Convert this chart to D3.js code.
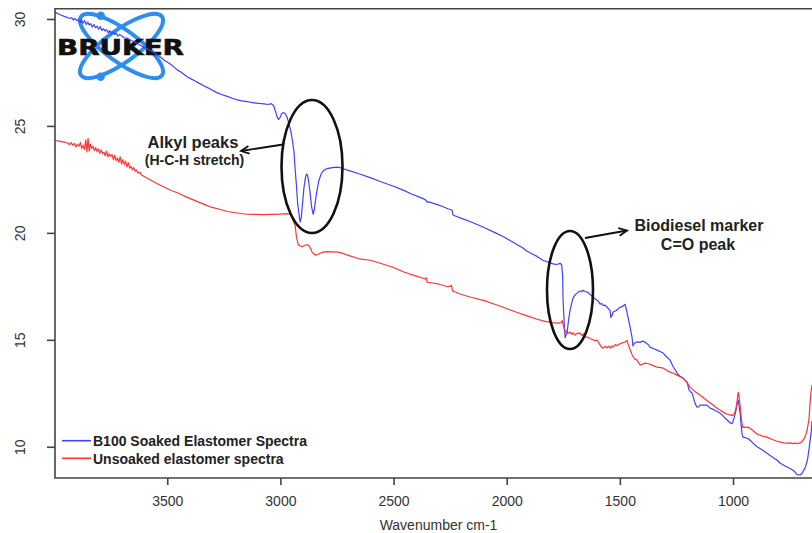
<!DOCTYPE html>
<html>
<head>
<meta charset="utf-8">
<script src="https://cdn.jsdelivr.net/npm/d3@7"></script>
<style>
  html, body { margin: 0; padding: 0; background: #fff; }
  svg { display: block; font-family: "Liberation Sans", Arial, sans-serif; }
</style>
</head>
<body>
<svg id="chart" width="812" height="533"></svg>
<script>
// FTIR transmittance spectra: [wavenumber (cm-1), transmittance]
const soakedSpectrum = [
  [3995,30.31],[3973,30.20],[3955,30.12],[3930,30.02],[3922,30.06],[3915,29.95],[3908,30.02],
  [3900,29.93],[3893,29.98],[3886,29.84],[3879,29.96],[3872,29.80],[3865,29.92],[3858,29.74],
  [3851,29.86],[3845,29.72],[3838,29.78],[3831,29.62],[3824,29.74],[3817,29.60],[3810,29.66],
  [3803,29.52],[3796,29.64],[3789,29.46],[3782,29.55],[3775,29.44],[3768,29.50],[3761,29.36],
  [3754,29.45],[3747,29.30],[3740,29.38],[3733,29.28],[3726,29.34],[3718,29.20],[3710,29.28],
  [3703,29.22],[3690,29.12],
  [3677,29.10],[3660,28.98],[3646,28.95],[3630,28.84],[3615,28.75],[3600,28.66],[3588,28.60],
  [3570,28.50],[3555,28.40],[3544,28.32],[3530,28.22],[3513,28.07],[3495,27.95],[3482,27.86],
  [3470,27.75],[3456,27.62],[3440,27.52],[3425,27.40],[3412,27.30],[3395,27.20],[3381,27.12],
  [3360,27.00],[3337,26.87],[3320,26.78],[3306,26.70],[3285,26.58],[3261,26.47],[3235,26.38],
  [3210,26.28],[3191,26.22],[3170,26.17],[3147,26.14],[3130,26.10],[3116,26.08],[3095,26.05],
  [3072,26.03],[3055,26.00],[3041,26.04],[3030,25.95],[3022,25.70],[3014,25.40],[3008,25.30],
  [3001,25.40],[2996,25.55],[2988,25.62],[2979,25.58],[2972,25.45],[2966,25.25],[2955,24.80],
  [2948,24.40],[2940,23.80],[2935,23.00],[2929,22.20],[2924,21.40],[2918,20.90],[2913,20.50],
  [2908,20.70],[2902,21.40],[2896,22.10],[2890,22.55],[2885,22.75],[2880,22.70],[2875,22.40],
  [2868,21.80],[2862,21.20],[2855,20.87],[2850,21.10],[2844,21.60],[2837,22.05],[2830,22.45],
  [2820,22.75],[2811,22.90],[2795,23.00],[2770,23.05],[2749,23.07],[2736,23.05],[2723,23.00],
  [2700,22.92],[2650,22.75],[2603,22.58],[2559,22.40],[2500,22.18],[2458,22.00],[2420,21.82],
  [2380,21.65],[2369,21.60],[2360,21.55],[2355,21.50],[2352,21.44],[2345,21.45],[2300,21.30],
  [2260,21.13],[2245,21.08],[2241,21.05],[2238,20.85],[2230,20.80],[2200,20.68],[2162,20.53],
  [2100,20.25],[2050,20.00],[2016,19.83],[1970,19.55],[1930,19.30],[1910,19.14],[1880,18.98],
  [1866,18.90],[1840,18.72],[1808,18.60],[1795,18.55],[1780,18.52],[1770,18.55],[1764,18.58],
  [1757,18.50],[1753,18.00],[1751,16.90],[1746,15.80],[1742,15.10],[1738,15.22],[1733,15.35],
  [1727,15.90],[1720,16.39],[1712,16.75],[1707,16.95],[1698,17.10],[1685,17.22],[1676,17.28],
  [1670,17.25],[1663,17.32],[1655,17.26],[1645,17.24],[1640,17.20],[1630,17.10],[1618,17.00],
  [1610,16.92],[1601,16.85],[1595,16.80],[1587,16.67],[1580,16.70],[1574,16.60],[1565,16.62],
  [1557,16.53],[1550,16.45],[1543,16.35],[1540,16.05],[1534,16.15],[1530,16.30],[1520,16.35],
  [1512,16.40],[1505,16.48],[1499,16.52],[1490,16.55],[1482,16.62],[1477,16.66],[1471,16.40],
  [1464,16.06],[1455,15.60],[1446,15.10],[1442,14.71],[1435,14.85],[1424,14.90],[1410,14.88],
  [1400,14.94],[1389,14.89],[1375,14.78],[1367,14.66],[1350,14.58],[1336,14.52],[1320,14.44],
  [1309,14.38],[1295,14.22],[1278,14.05],[1265,13.75],[1247,13.44],[1235,13.30],[1221,13.21],
  [1210,13.10],[1203,13.02],[1194,12.65],[1186,12.55],[1181,12.51],[1175,12.30],[1168,12.04],
  [1159,11.85],[1150,11.87],[1146,11.95],[1132,11.95],[1115,11.95],[1102,11.81],[1088,11.75],
  [1057,11.57],[1026,11.25],[1010,11.10],[1004,11.08],[995,11.35],[987,11.70],[982,12.00],
  [977,12.18],[973,11.90],[969,11.60],[964,11.00],[960,10.60],[956,10.45],[947,10.43],
  [938,10.40],[930,10.35],[916,10.22],[912,10.17],[894,10.00],[870,9.85],[850,9.70],
  [830,9.55],[806,9.38],[793,9.24],[770,9.10],[761,9.05],[748,8.98],[735,8.90],[726,8.82],
  [717,8.70],[704,8.68],[695,8.76],[682,9.00],[673,9.30],[669,9.52],[664,9.90],[660,10.25],
  [655,10.64],[651,11.20]
];

const unsoakedSpectrum = [
  [3995,24.33],[3973,24.28],[3955,24.24],[3940,24.20],[3932,24.12],[3925,24.22],[3918,24.10],
  [3911,24.18],[3904,24.02],[3897,24.15],[3890,24.05],[3884,24.22],[3878,23.95],[3872,24.10],
  [3866,23.90],[3860,24.35],[3855,23.78],[3850,24.42],[3845,23.82],[3840,24.15],[3834,23.95],
  [3828,24.05],[3822,23.85],[3816,23.98],[3810,23.80],[3804,23.92],[3798,23.72],[3792,23.88],
  [3786,23.70],[3780,23.78],[3774,23.60],[3768,23.82],[3762,23.55],[3756,23.70],[3750,23.58],
  [3744,23.66],[3738,23.42],[3732,23.62],[3726,23.38],[3720,23.50],[3714,23.30],[3708,23.55],
  [3702,23.22],[3696,23.42],[3690,23.20],[3684,23.35],[3678,23.08],[3672,23.28],[3666,23.02],
  [3660,23.12],[3654,22.95],[3648,23.05],[3642,22.88],[3636,22.94],[3630,22.80],[3622,22.84],
  [3615,22.72],[3600,22.62],[3588,22.55],[3570,22.45],[3544,22.30],
  [3510,22.12],[3482,21.98],[3450,21.85],[3412,21.66],[3380,21.52],[3337,21.33],[3306,21.20],
  [3261,21.08],[3235,21.00],[3191,20.93],[3147,20.87],[3116,20.86],[3072,20.85],[3041,20.86],
  [3000,20.88],[2970,20.90],[2960,20.88],[2950,20.80],[2943,20.55],[2935,20.35],[2929,19.80],
  [2921,19.45],[2913,19.40],[2904,19.35],[2890,19.42],[2880,19.45],[2873,19.40],[2866,19.25],
  [2860,19.10],[2850,19.00],[2846,18.96],[2833,19.00],[2824,19.05],[2811,19.10],[2793,19.12],
  [2749,19.10],[2736,19.08],[2700,18.95],[2650,18.78],[2603,18.72],[2559,18.58],[2500,18.38],
  [2458,18.18],[2400,17.98],[2369,17.88],[2360,17.85],[2356,17.90],[2352,17.70],[2340,17.68],
  [2300,17.60],[2260,17.48],[2250,17.50],[2244,17.55],[2240,17.30],[2230,17.25],[2200,17.12],
  [2162,17.00],[2100,16.83],[2050,16.65],[2016,16.52],[1960,16.30],[1910,16.12],[1866,15.96],
  [1830,15.86],[1808,15.83],[1795,15.80],[1780,15.78],[1770,15.78],[1760,15.80],[1755,15.90],
  [1750,15.70],[1745,15.45],[1742,15.36],[1735,15.42],[1730,15.30],[1720,15.36],[1712,15.25],
  [1707,15.32],[1698,15.22],[1690,15.30],[1676,15.31],[1668,15.20],[1660,15.28],[1650,15.12],
  [1645,15.13],[1630,15.05],[1618,15.00],[1608,14.95],[1601,14.99],[1590,14.80],[1580,14.65],
  [1574,14.61],[1565,14.70],[1557,14.62],[1550,14.70],[1543,14.61],[1535,14.72],[1530,14.66],
  [1520,14.78],[1512,14.72],[1505,14.80],[1499,14.80],[1490,14.86],[1482,14.88],[1477,14.90],
  [1468,14.97],[1464,14.80],[1455,14.55],[1446,14.30],[1435,14.10],[1424,14.05],[1411,13.82],
  [1400,13.86],[1389,13.91],[1375,13.88],[1367,13.86],[1350,13.78],[1336,13.72],[1320,13.70],
  [1309,13.68],[1290,13.55],[1265,13.44],[1247,13.35],[1221,13.21],[1203,13.00],[1190,12.79],
  [1170,12.60],[1146,12.42],[1120,12.20],[1088,11.95],[1070,11.80],[1044,11.62],[1026,11.52],
  [1010,11.48],[1004,11.45],[995,11.55],[991,11.62],[985,11.90],[980,12.30],[977,12.55],
  [973,12.30],[969,11.95],[965,11.50],[960,11.05],[956,10.90],[950,10.92],[938,10.90],
  [934,10.92],[916,10.80],[912,10.75],[894,10.60],[870,10.50],[850,10.45],[830,10.35],
  [806,10.26],[790,10.22],[775,10.18],[761,10.17],[748,10.18],[735,10.15],[726,10.17],
  [717,10.15],[704,10.18],[695,10.24],[682,10.45],[673,10.75],[664,11.30],[660,12.00],
  [655,12.60],[651,12.88]
];

const seriesNames = ["B100 Soaked Elastomer Spectra", "Unsoaked elastomer spectra"];
const seriesColors = ["#4040ff", "#ff3535"];
const xTickValues = [3500, 3000, 2500, 2000, 1500, 1000];
const yTickValues = [10, 15, 20, 25, 30];
const xTitle = "Wavenumber cm-1";

const svg = d3.select("#chart");
const plot = { left: 55, right: 812, top: 8.7, bottom: 478 };

const x = d3.scaleLinear().domain([3996, 651]).range([plot.left, plot.right]);
const y = d3.scaleLinear().domain([8.54, 30.48]).range([plot.bottom, plot.top]);

svg.append("defs").append("clipPath").attr("id", "plotClip")
  .append("rect")
  .attr("x", plot.left).attr("y", plot.top)
  .attr("width", plot.right - plot.left).attr("height", plot.bottom - plot.top);

// Bruker logo in the upper left corner
const logo = svg.append("g").attr("class", "logo");
const atomBlue = "#2d8ef0";
[36, -36].forEach(a => {
  logo.append("ellipse")
    .attr("cx", 0).attr("cy", 0).attr("rx", 50).attr("ry", 16)
    .attr("transform", `translate(121.5,46) rotate(${a})`)
    .attr("fill", "none").attr("stroke", atomBlue).attr("stroke-width", 4);
});
[[100.7, 15.7], [100.7, 76.7]].forEach(([cx, cy]) => {
  logo.append("circle").attr("cx", cx).attr("cy", cy).attr("r", 4.2).attr("fill", atomBlue);
});
logo.append("text")
  .attr("x", 57).attr("y", 55)
  .attr("textLength", 127).attr("lengthAdjust", "spacingAndGlyphs")
  .style("font-family", "'DejaVu Sans', sans-serif")
  .style("font-weight", "bold").style("font-size", "21px")
  .attr("fill", "#111").attr("stroke", "#111").attr("stroke-width", 0.6)
  .text("BRUKER");

// Spectra
const line = d3.line().x(d => x(d[0])).y(d => y(d[1]));
const lines = svg.append("g").attr("clip-path", "url(#plotClip)");
[soakedSpectrum, unsoakedSpectrum].forEach((s, i) => {
  lines.append("path").datum(s)
    .attr("d", line)
    .attr("fill", "none")
    .attr("stroke", seriesColors[i])
    .attr("stroke-width", 1.2)
    .attr("stroke-linejoin", "round");
});

// Frame (left, top, bottom)
const frameColor = "#444";
svg.append("path")
  .attr("d", `M${plot.right},${plot.top}H${plot.left}V${plot.bottom}H${plot.right}`)
  .attr("fill", "none").attr("stroke", frameColor).attr("stroke-width", 1.6);

// Axes
const xAxis = d3.axisBottom(x).tickValues(xTickValues).tickSize(7).tickPadding(11).tickFormat(d3.format("d"));
const gx = svg.append("g").attr("transform", `translate(0,${plot.bottom})`).call(xAxis);
gx.select(".domain").remove();
gx.selectAll(".tick line").attr("stroke", frameColor).attr("stroke-width", 1.6);
gx.selectAll(".tick text").attr("fill", "#333")
  .style("font-size", "14px").style("font-family", "'Liberation Sans', Arial, sans-serif");

const yAxis = d3.axisLeft(y).tickValues(yTickValues).tickSize(8).tickFormat(d3.format("d"));
const gy = svg.append("g").attr("transform", `translate(${plot.left},0)`).call(yAxis);
gy.select(".domain").remove();
gy.selectAll(".tick line").attr("stroke", frameColor).attr("stroke-width", 1.6);
gy.selectAll(".tick text")
  .attr("x", null).attr("dy", null)
  .attr("text-anchor", "middle")
  .attr("transform", "translate(-30,0) rotate(-90)")
  .attr("fill", "#333")
  .style("font-size", "14px").style("font-family", "'Liberation Sans', Arial, sans-serif");

svg.append("text")
  .attr("x", 438.5).attr("y", 530)
  .attr("text-anchor", "middle")
  .attr("fill", "#333")
  .style("font-size", "14px")
  .text(xTitle);

// Legend
const legend = svg.append("g");
seriesNames.forEach((name, i) => {
  const ly = 440.7 + i * 17.6;
  legend.append("line")
    .attr("x1", 62).attr("x2", 91).attr("y1", ly).attr("y2", ly)
    .attr("stroke", seriesColors[i]).attr("stroke-width", 1.6);
  legend.append("text")
    .attr("x", 93).attr("y", ly + 5.3)
    .attr("fill", "#222")
    .style("font-size", "14px").style("font-weight", "bold")
    .text(name);
});

// Annotations: ellipses, arrows and labels
const ann = svg.append("g").attr("fill", "none").attr("stroke", "#111");
ann.append("ellipse").attr("cx", 312).attr("cy", 166.5).attr("rx", 30.5).attr("ry", 66.5)
  .attr("stroke-width", 2.6);
ann.append("ellipse").attr("cx", 570).attr("cy", 290).attr("rx", 23).attr("ry", 59)
  .attr("stroke-width", 2.6);

function arrow(x1, y1, x2, y2) {
  const ang = Math.atan2(y2 - y1, x2 - x1);
  const len = 9, spread = 0.45;
  ann.append("line").attr("x1", x1).attr("y1", y1).attr("x2", x2).attr("y2", y2)
    .attr("stroke-width", 1.8);
  ann.append("path")
    .attr("d", `M${x2 - len * Math.cos(ang - spread)},${y2 - len * Math.sin(ang - spread)}` +
               `L${x2},${y2}` +
               `L${x2 - len * Math.cos(ang + spread)},${y2 - len * Math.sin(ang + spread)}`)
    .attr("stroke-width", 1.8).attr("stroke-linejoin", "miter");
}
arrow(283, 144.5, 241, 151);
arrow(585, 238, 627, 230.5);

const labels = [
  { text: "Alkyl peaks", x: 193, y: 148, size: 16.5 },
  { text: "(H-C-H stretch)", x: 194.5, y: 165, size: 14 },
  { text: "Biodiesel marker", x: 699, y: 230.5, size: 16 },
  { text: "C=O peak", x: 698, y: 250, size: 16 }
];
svg.append("g").selectAll("text").data(labels).join("text")
  .attr("x", d => d.x).attr("y", d => d.y)
  .attr("text-anchor", "middle")
  .attr("fill", "#222")
  .style("font-weight", "bold")
  .style("font-size", d => d.size + "px")
  .text(d => d.text);
</script>
</body>
</html>
